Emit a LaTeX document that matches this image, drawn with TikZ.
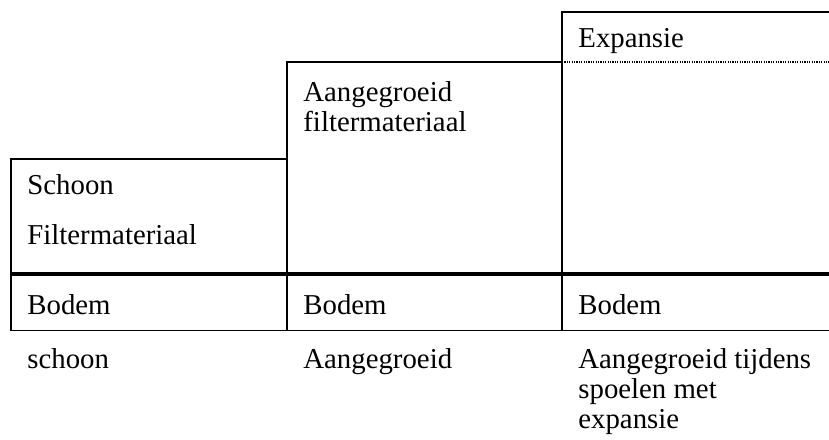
\documentclass[tikz,border=0pt]{standalone}
\usepackage{fontspec}
\setmainfont{Liberation Serif}
\begin{document}
\begin{tikzpicture}[x=0.5pt,y=-0.5pt,
  txt/.style={anchor=base west,inner sep=0pt,font=\fontsize{14.4pt}{16pt}\selectfont},
  rule/.style={line width=0.8pt},
  thickrule/.style={line width=1.7pt},
  dotrule/.style={line width=0.6pt,dash pattern=on 0.6pt off 0.6pt}]
\useasboundingbox (0,0) rectangle (829,439);
% outlines
\draw[rule] (11,330.5) -- (11,159) -- (287,159);
\draw[rule] (287,330.5) -- (287,62) -- (562,62);
\draw[rule] (562,330.5) -- (562,12) -- (829,12);
\draw[dotrule] (562,62) -- (829,62);
\draw[thickrule] (11,274) -- (829,274);
\draw[rule] (11,330.5) -- (829,330.5);
% texts
\node[txt] (exp) at (578,47) {Expansie};
\node[txt] (ag1) at (303,101) {Aangegroeid};
\node[txt] (ag2) at (303,131) {filtermateriaal};
\node[txt] (sc1) at (27,194) {Schoon};
\node[txt] (sc2) at (27,244) {Filtermateriaal};
\node[txt] (b1) at (27,314) {Bodem};
\node[txt] (b2) at (303,314) {Bodem};
\node[txt] (b3) at (578,314) {Bodem};
\node[txt] (l1) at (27,368) {schoon};
\node[txt] (l2) at (303,368) {Aangegroeid};
\node[txt] (l3a) at (578,368) {Aangegroeid tijdens};
\node[txt] (l3b) at (578,398) {spoelen met};
\node[txt] (l3c) at (578,428) {expansie};
\end{tikzpicture}
\end{document}
